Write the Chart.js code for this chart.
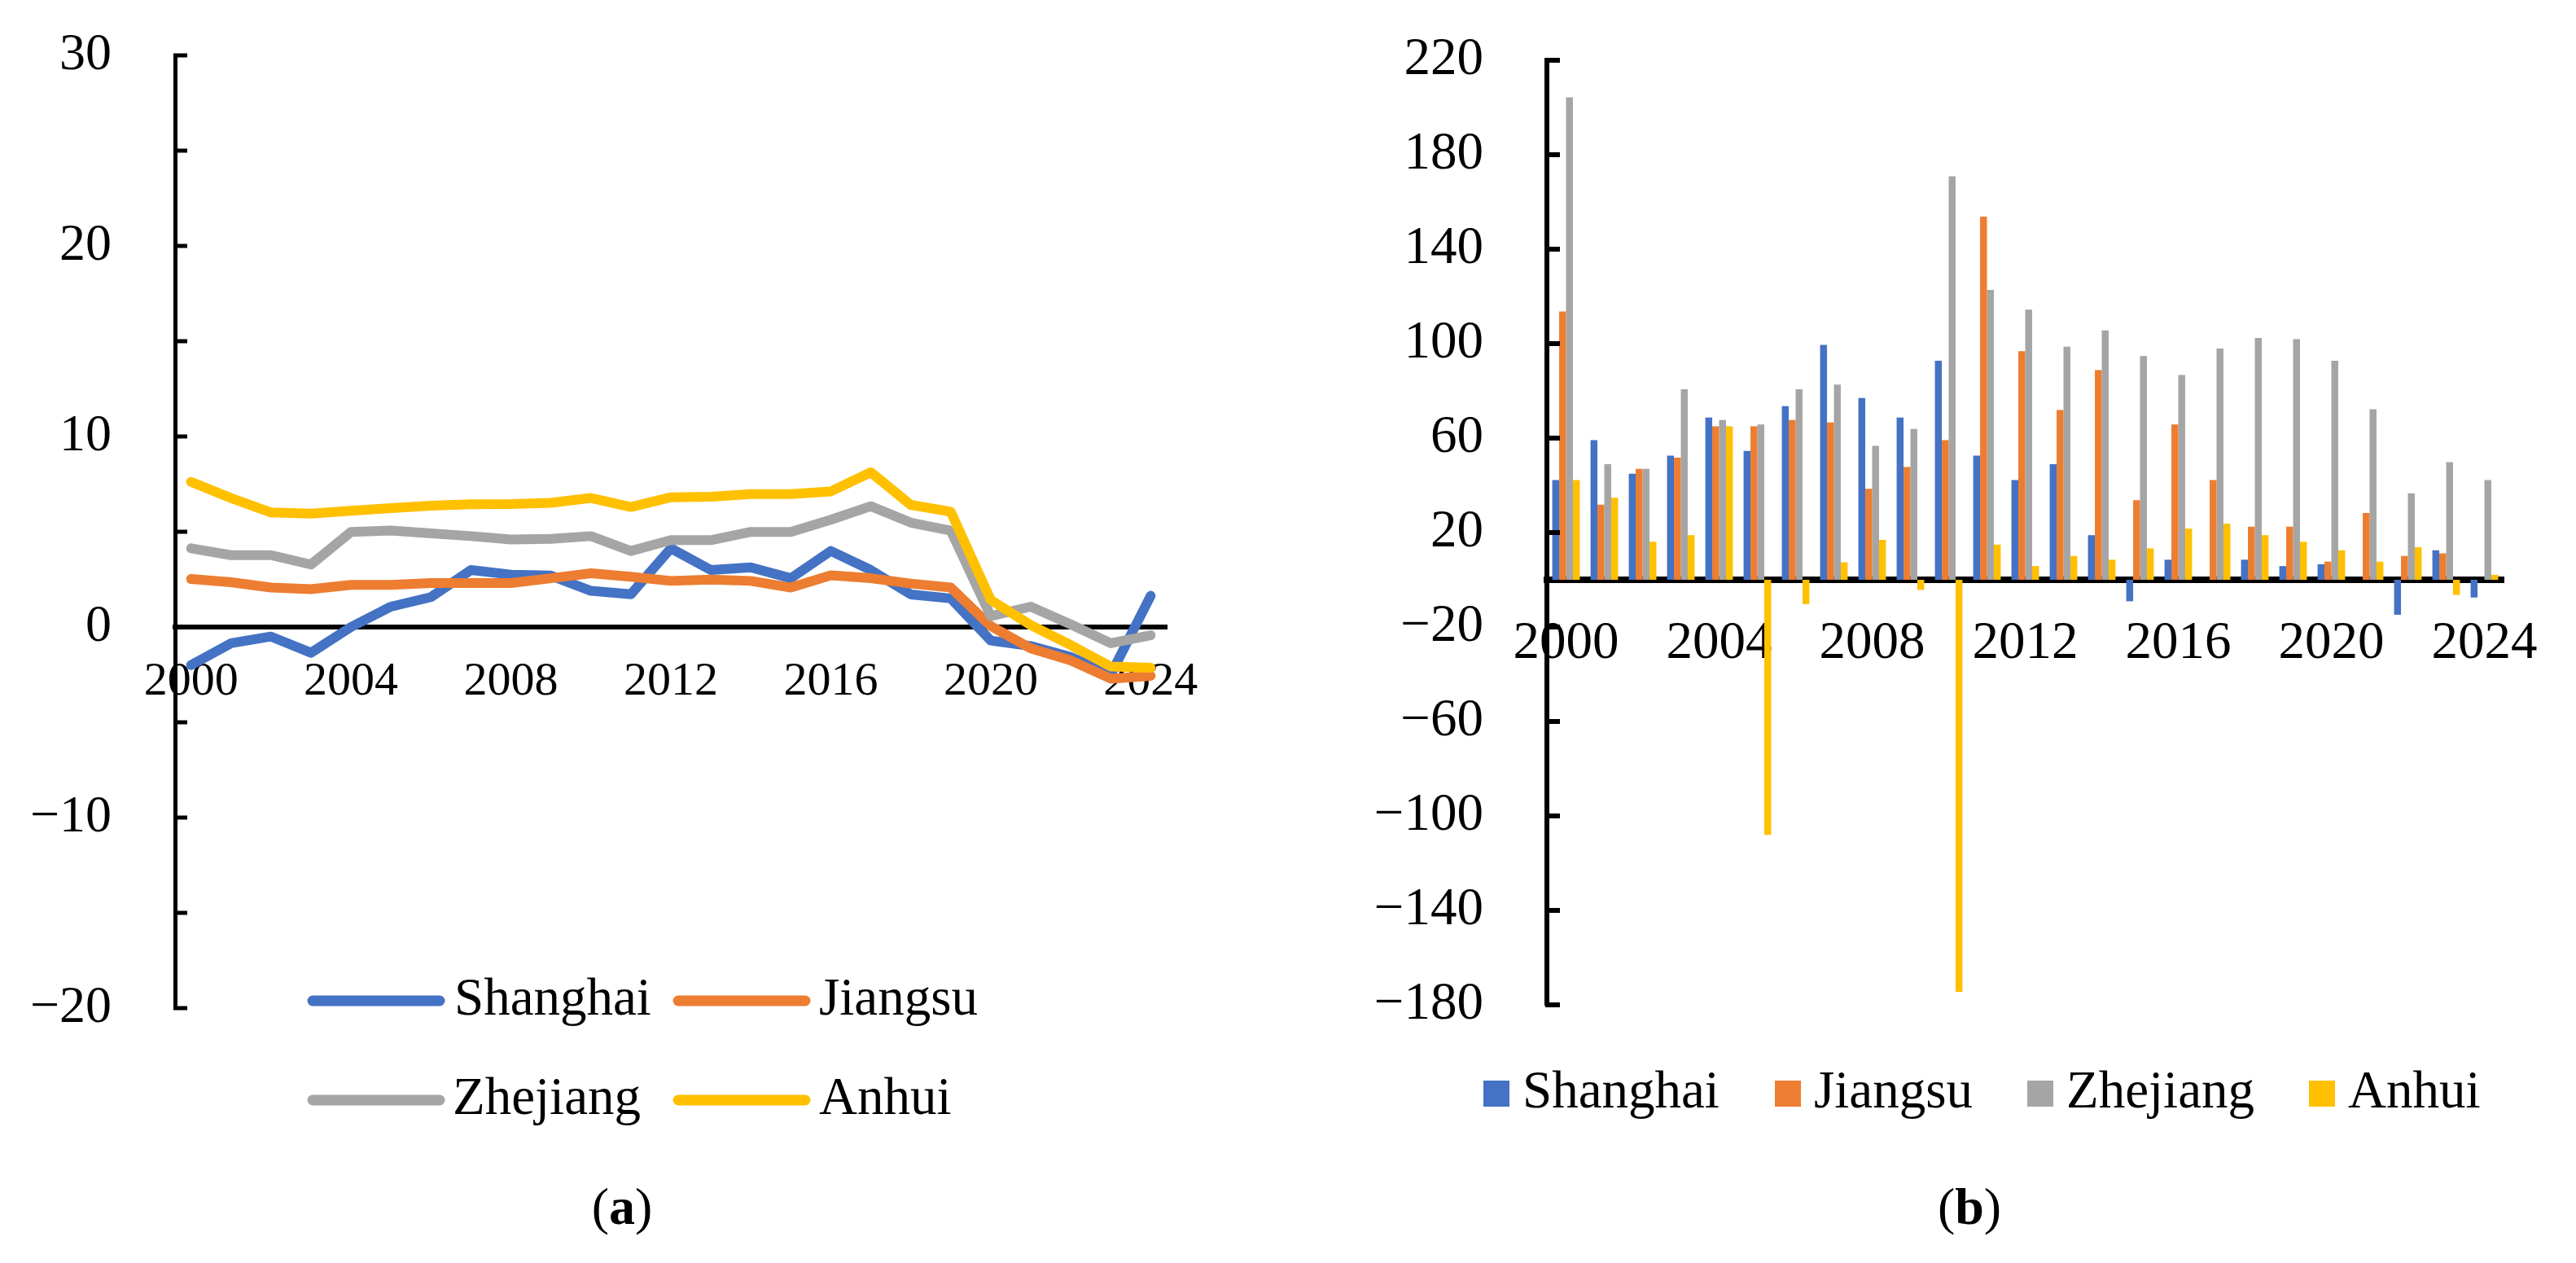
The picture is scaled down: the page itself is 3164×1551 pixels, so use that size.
<!DOCTYPE html>
<html lang="en">
<head>
    <meta charset="UTF-8">
    <title>Shanghai, Jiangsu, Zhejiang, Anhui</title>
    <script src="https://cdn.jsdelivr.net/npm/chart.js@4"></script>
    <style>
        body { margin: 0; background: #fff; }
        .panel { position: absolute; top: 0; width: 1582px; height: 1551px; }
        .cap { position: absolute; top: 1442px; width: 200px; text-align: center;
               font: 64px "Liberation Serif", serif; color: #000; line-height: 80px; }
    </style>
</head>
<body>
    <div class="panel" style="left:0"><canvas id="lineChart"></canvas></div>
    <div class="panel" style="left:1582px"><canvas id="barChart"></canvas></div>
    <div class="cap" style="left:664px">(<b>a</b>)</div>
    <div class="cap" style="left:2319px">(<b>b</b>)</div>

    <script>
        // years shared by both panels
        const years = [2000, 2001, 2002, 2003, 2004, 2005, 2006, 2007, 2008, 2009, 2010, 2011, 2012,
                       2013, 2014, 2015, 2016, 2017, 2018, 2019, 2020, 2021, 2022, 2023, 2024];
        const yearTicks = [2000, 2004, 2008, 2012, 2016, 2020, 2024];
        const regions = ['Shanghai', 'Jiangsu', 'Zhejiang', 'Anhui'];
        const colors = ['#4472C4', '#ED7D31', '#A5A5A5', '#FFC000'];

        // panel (a) series
        const shanghaiA = [-2.0, -0.85, -0.5, -1.35, 0.0, 1.07, 1.57, 2.99, 2.75, 2.7, 1.9, 1.72, 4.13,
                           2.99, 3.13, 2.56, 3.99, 2.99, 1.71, 1.5, -0.71, -1.0, -1.57, -2.5, 1.64];
        const jiangsuA = [2.52, 2.35, 2.07, 1.99, 2.21, 2.21, 2.31, 2.31, 2.31, 2.56, 2.82, 2.64, 2.42,
                          2.49, 2.42, 2.07, 2.71, 2.56, 2.28, 2.07, 0.05, -1.12, -1.75, -2.71, -2.56];
        const zhejiangA = [4.13, 3.77, 3.77, 3.28, 4.99, 5.06, 4.91, 4.77, 4.59, 4.63, 4.77, 3.99, 4.56,
                           4.56, 4.99, 4.99, 5.63, 6.34, 5.48, 5.06, 0.57, 1.07, 0.14, -0.85, -0.43];
        const anhuiA = [7.62, 6.77, 6.01, 5.95, 6.1, 6.24, 6.37, 6.44, 6.45, 6.52, 6.77, 6.3, 6.81,
                        6.84, 6.98, 6.98, 7.12, 8.12, 6.41, 6.05, 1.42, 0.1, -0.95, -2.07, -2.14];

        // panel (b) series
        const shanghaiB = [42.2, 59.1, 44.9, 52.6, 68.7, 54.6, 73.5, 99.5, 77.0, 68.7, 92.8, 52.6, 42.2,
                           49.0, 18.9, -9.1, 8.5, 0, 8.5, 5.8, 6.6, 0, -14.8, 12.5, -7.5];
        const jiangsuB = [113.6, 31.8, 47.0, 51.7, 65.0, 65.0, 67.7, 66.6, 38.5, 47.8, 59.1, 153.8, 96.8,
                          71.9, 88.8, 33.7, 65.8, 42.2, 22.5, 22.5, 7.7, 28.3, 10.1, 11.2, 0];
        const zhejiangB = [204.3, 49.0, 47.0, 80.7, 67.7, 65.8, 80.7, 82.7, 56.7, 63.9, 170.9, 122.8, 114.4,
                           98.7, 105.6, 94.7, 86.7, 97.9, 102.4, 101.9, 92.8, 72.2, 36.6, 49.8, 42.2];
        const anhuiB = [42.2, 34.7, 16.1, 18.9, 65.0, -108, -10.3, 7.4, 16.9, -4.3, -174.5, 14.9, 5.8,
                        10.1, 8.5, 13.3, 21.7, 23.8, 18.9, 16.1, 12.5, 7.7, 13.8, -6.4, 2.1];

        Chart.defaults.font.family = '"Liberation Serif", serif';
        Chart.defaults.font.size = 64;
        Chart.defaults.color = '#000';

        const minus = v => (v < 0 ? '\u2212' + Math.abs(v) : String(v));

        // invisible tick marks give the label gap without adding layout padding
        const gap = len => ({ drawOnChartArea: false, drawTicks: true, tickLength: len, color: 'rgba(0,0,0,0)' });

        // small tick marks pointing into the plot
        const inwardTicks = {
            id: 'inwardTicks',
            afterDraw(chart, args, opts) {
                const y = chart.scales.y;
                const ctx = chart.ctx;
                ctx.save();
                ctx.strokeStyle = '#000';
                ctx.lineWidth = opts.width;
                y.ticks.forEach(t => {
                    const py = y.getPixelForValue(t.value);
                    ctx.beginPath();
                    ctx.moveTo(y.right - 2, py);
                    ctx.lineTo(y.right + opts.len, py);
                    ctx.stroke();
                });
                ctx.restore();
            }
        };

        // legend laid out like the Excel one (grid for (a), row for (b))
        const placedLegend = {
            id: 'placedLegend',
            afterDraw(chart, args, opts) {
                const ctx = chart.ctx;
                ctx.save();
                ctx.font = '65px "Liberation Serif", serif';
                ctx.textBaseline = 'middle';
                opts.items.forEach((it, i) => {
                    const ds = chart.data.datasets[i];
                    if (opts.kind === 'line') {
                        ctx.strokeStyle = ds.borderColor;
                        ctx.lineWidth = 13;
                        ctx.lineCap = 'round';
                        ctx.beginPath();
                        ctx.moveTo(it.x0, it.y);
                        ctx.lineTo(it.x1, it.y);
                        ctx.stroke();
                    } else {
                        ctx.fillStyle = ds.backgroundColor;
                        ctx.fillRect(it.x0, it.y - 16, it.x1 - it.x0, 32);
                    }
                    ctx.fillStyle = '#000';
                    ctx.fillText(ds.label, it.tx, it.y);
                });
                ctx.restore();
            }
        };

        const seriesA = [shanghaiA, jiangsuA, zhejiangA, anhuiA];
        new Chart(document.getElementById('lineChart'), {
            type: 'line',
            data: {
                datasets: regions.map((name, i) => ({
                    label: name,
                    data: years.map((yr, j) => ({ x: yr, y: seriesA[i][j] })),
                    borderColor: colors[i],
                    backgroundColor: colors[i],
                    borderWidth: 12,
                    borderCapStyle: 'round',
                    borderJoinStyle: 'round',
                    pointRadius: 0,
                    order: 4 - i
                }))
            },
            options: {
                responsive: true,
                maintainAspectRatio: false,
                animation: false,
                layout: { padding: { left: 0, top: 68, right: 149, bottom: 313 } },
                plugins: {
                    legend: { display: false },
                    tooltip: { enabled: false },
                    inwardTicks: { len: 15, width: 5 },
                    placedLegend: {
                        kind: 'line',
                        items: [
                            { x0: 384, x1: 540, y: 1229, tx: 558 },
                            { x0: 833, x1: 989, y: 1229, tx: 1006 },
                            { x0: 384, x1: 540, y: 1351, tx: 556 },
                            { x0: 833, x1: 989, y: 1351, tx: 1006 }
                        ]
                    }
                },
                scales: {
                    x: {
                        type: 'linear',
                        min: 1999.6,
                        max: 2024.4,
                        position: { y: 0 },
                        afterBuildTicks: s => { s.ticks = yearTicks.map(v => ({ value: v })); },
                        afterFit: s => { s.height = 0; },
                        grid: gap(33),
                        border: { color: '#000', width: 6 },
                        ticks: { padding: 0, font: { size: 58 }, maxRotation: 0, autoSkip: false, callback: v => String(v) }
                    },
                    y: {
                        min: -20,
                        max: 30,
                        afterFit: s => { s.width = 215; },
                        grid: gap(78),
                        border: { color: '#000', width: 5, z: 1 },
                        ticks: { stepSize: 5, padding: 0, callback: v => (v % 10 === 0 ? minus(v) : '') }
                    }
                }
            },
            plugins: [inwardTicks, placedLegend]
        });

        const seriesB = [shanghaiB, jiangsuB, zhejiangB, anhuiB];
        new Chart(document.getElementById('barChart'), {
            type: 'bar',
            data: {
                labels: years.map(String),
                datasets: regions.map((name, i) => ({
                    label: name,
                    data: seriesB[i],
                    backgroundColor: colors[i],
                    borderWidth: 0,
                    categoryPercentage: 0.72,
                    barPercentage: 1.0
                }))
            },
            options: {
                responsive: true,
                maintainAspectRatio: false,
                animation: false,
                layout: { padding: { left: 0, top: 74, right: 89, bottom: 317 } },
                plugins: {
                    legend: { display: false },
                    tooltip: { enabled: false },
                    inwardTicks: { len: 16, width: 6 },
                    placedLegend: {
                        kind: 'box',
                        items: [
                            { x0: 240, x1: 272, y: 1343, tx: 288 },
                            { x0: 598, x1: 630, y: 1343, tx: 646 },
                            { x0: 908, x1: 940, y: 1343, tx: 956 },
                            { x0: 1254, x1: 1286, y: 1343, tx: 1302 }
                        ]
                    }
                },
                scales: {
                    x: {
                        position: { y: 0 },
                        afterFit: s => { s.height = 0; },
                        grid: gap(40),
                        border: { color: '#000', width: 8 },
                        ticks: {
                            padding: 0,
                            font: { size: 65 },
                            maxRotation: 0,
                            autoSkip: false,
                            callback: function (v, i) { return i % 4 === 0 ? this.getLabelForValue(v) : ''; }
                        }
                    },
                    y: {
                        min: -180,
                        max: 220,
                        afterFit: s => { s.width = 318; },
                        grid: gap(78),
                        border: { color: '#000', width: 6, z: 1 },
                        ticks: { stepSize: 40, padding: 0, font: { size: 65 }, callback: v => minus(v) }
                    }
                }
            },
            plugins: [inwardTicks, placedLegend]
        });
    </script>
</body>
</html>
